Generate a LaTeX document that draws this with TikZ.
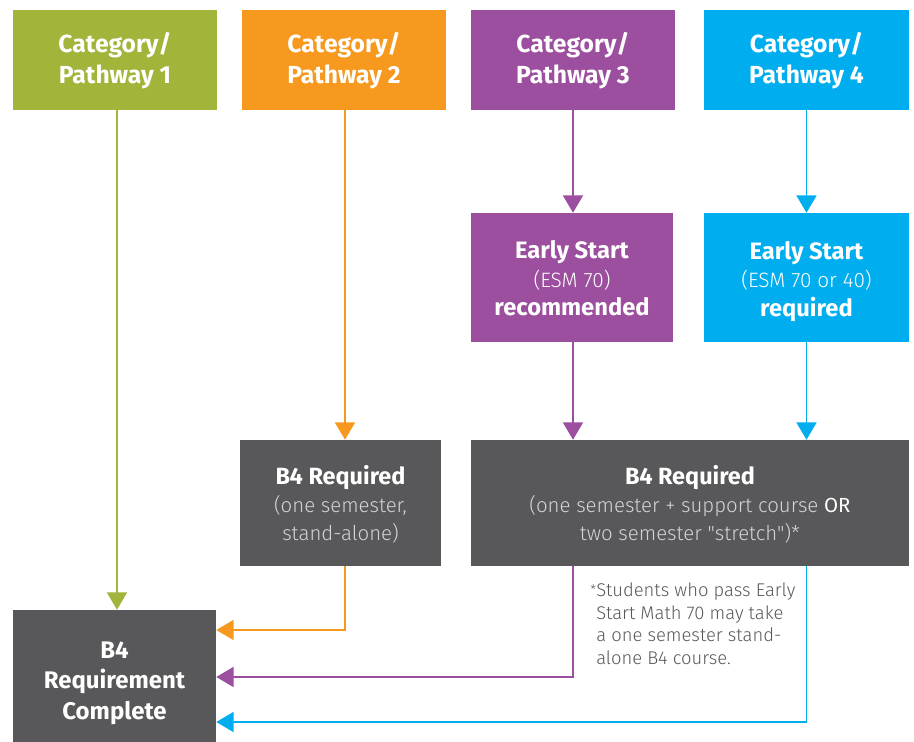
\documentclass[tikz,border=0pt]{standalone}
\usepackage{fontspec}
\setmainfont{Fira Sans}
\newfontfamily\lightfont{Fira Sans Light}
\usetikzlibrary{arrows.meta,calc}
\definecolor{cgreen}{HTML}{A2B43A}
\definecolor{corange}{HTML}{F7991F}
\definecolor{cpurple}{HTML}{9C4F9F}
\definecolor{cblue}{HTML}{00AEEF}
\definecolor{cgray}{HTML}{58585A}
\definecolor{clight}{HTML}{D4D4D6}
\begin{document}
\begin{tikzpicture}[x=0.75pt,y=-0.75pt,
  box/.style={rectangle, inner sep=0pt, align=center, text=white},
  titlebox/.style={box, minimum width=153pt, minimum height=75pt, font=\bfseries\fontsize{18.5}{23.2}\selectfont},
  esbox/.style={box, minimum height=96.75pt, font=\bfseries\fontsize{17.8}{21.4}\selectfont},
  reqbox/.style={box, fill=cgray, minimum height=94.5pt, font=\bfseries\fontsize{17.6}{21}\selectfont},
  conn/.style={line width=1.3pt, -{Triangle[width=15pt,length=13pt]}},
]
\useasboundingbox (0,0) rectangle (914,742);
\newcommand{\lite}[1]{{\lightfont\mdseries\fontsize{15.3}{21}\selectfont\color{clight}#1}}
\newcommand{\litew}[1]{{\lightfont\mdseries\fontsize{15.6}{21.4}\selectfont #1}}
\newcommand{\tstrut}[1]{\rule{0pt}{#1}}
\newcommand{\nodepth}[1]{\raisebox{0pt}[\height][0pt]{#1}}

\node[titlebox, fill=cgreen]  (c1) at (115,60)   {\tstrut{16.5pt}Category/\\Pathway 1};
\node[titlebox, fill=corange] (c2) at (344,60)   {\tstrut{16.5pt}Category/\\Pathway 2};
\node[titlebox, fill=cpurple] (c3) at (573,60)   {\tstrut{16.5pt}Category/\\Pathway 3};
\node[titlebox, fill=cblue, minimum width=153.75pt] (c4) at (806.5,60) {\tstrut{16.5pt}Category/\\Pathway 4};

\node[esbox, fill=cpurple, minimum width=151.5pt] (e3) at (572,277.5) {\tstrut{15.2pt}Early Start\\\litew{(ESM 70)}\\recommended};
\node[esbox, fill=cblue, minimum width=153.75pt] (e4) at (806.5,277.5) {\tstrut{15.2pt}Early Start\\\litew{(ESM 70 or 40)}\\\nodepth{required}};

\node[reqbox, minimum width=150.75pt] (r2) at (340.5,503) {\tstrut{16.5pt}B4 Required\\\lite{(one semester,}\\\lite{stand-alone)}};
\node[reqbox, minimum width=328.5pt] (r34) at (690,503) {\tstrut{16.5pt}B4 Required\\\lite{(one semester + support course {\normalfont\color{white}OR}}\\\lite{two semester "stretch")*}};

\node[box, fill=cgray, minimum width=152.25pt, minimum height=99pt, font=\bfseries\fontsize{18}{23}\selectfont] (done) at (114.5,676) {\tstrut{23pt}B4\\Requirement\\Complete};

\node[anchor=north west, inner sep=0pt, align=left, text=cgray, font=\lightfont\fontsize{13.8}{16.8}\selectfont] (note) at (596,583)
  {\llap{\raisebox{0.25ex}{\fontsize{10}{10}\selectfont*}}Students who pass Early\\Start Math 70 may take\\a one semester stand-\\alone B4 course.};

\draw[conn, cgreen] (c1.south -| 117,0) -- (done.north -| 117,0);
\draw[conn, corange] (c2.south -| 345,0) -- (r2.north -| 345,0);
\draw[conn, corange] (r2.south -| 345,0) |- (done.east |- 0,630);
\draw[conn, cpurple] (c3.south) -- (e3.north -| c3.south);
\draw[conn, cpurple] (e3.south -| c3.south) -- (r34.north -| c3.south);
\draw[conn, cpurple] (r34.south -| c3.south) |- (done.east |- 0,677);
\draw[conn, cblue] (c4.south) -- (e4.north);
\draw[conn, cblue] (e4.south) -- (r34.north -| e4.south);
\draw[conn, cblue] (r34.south -| e4.south) |- (done.east |- 0,722);
\end{tikzpicture}
\end{document}
